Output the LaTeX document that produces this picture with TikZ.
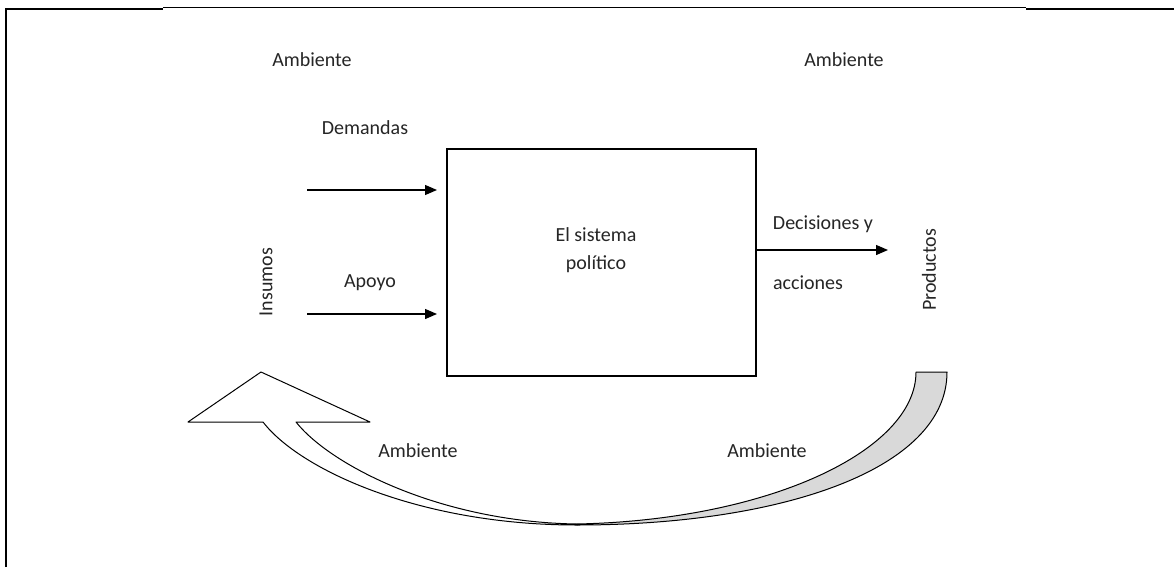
\documentclass[tikz,border=0pt]{standalone}
\usepackage{fontspec}
\setmainfont{Carlito}
\usetikzlibrary{arrows.meta}
\begin{document}
\begin{tikzpicture}[x=1pt,y=-1pt,
  lbl/.style={font=\fontsize{20}{24}\selectfont, text=black!85, inner sep=0pt},
  arr/.style={line width=1.3pt, -{Triangle[length=12pt,width=10pt]}},
  sysbox/.style={draw, line width=1.5pt, minimum width=309pt, minimum height=227pt, anchor=north west, inner sep=0pt},
  band/.style={draw, line width=1pt, line join=round}]
\useasboundingbox (0,0) rectangle (1174,567);
\fill[white] (0,0) rectangle (1174,567);
% table borders
\draw[line width=2.5pt] (6,567) -- (6,9) -- (163,9);
\draw[line width=1.8pt] (163,7.5) -- (1026,7.5);
\draw[line width=2.5pt] (1026,9) -- (1174,9);
% labels
\node[lbl] (amb1) at (312,60) {Ambiente};
\node[lbl] (amb2) at (844,60) {Ambiente};
\node[lbl] (amb3) at (418,451) {Ambiente};
\node[lbl] (amb4) at (767,451) {Ambiente};
\node[lbl] (dem) at (365,128) {Demandas};
\node[lbl] (apo) at (370,283) {Apoyo};
\node[lbl, rotate=90] (ins) at (266,282) {Insumos};
\node[lbl, rotate=90] (prod) at (929,270) {Productos};
\node[lbl] (dec) at (823,224) {Decisiones y};
\node[lbl] (acc) at (808,283) {acciones};
% system box
\node[sysbox] (sys) at (446,148) {};
\node[lbl, align=center] (systxt) at (596,250) {El sistema\\[4pt]político};
% input/output arrows
\coordinate (d0) at (307,190);
\coordinate (d1) at (437,190);
\coordinate (a0) at (307,314);
\coordinate (a1) at (437,314);
\coordinate (o1) at (888,250);
\draw[arr] (d0) -- (d1);
\draw[arr] (a0) -- (a1);
\draw[arr] (sys.east |- o1) -- (o1);
% feedback curved arrow
\coordinate (bot) at (577,525);
\coordinate (boti) at (577,524);
\path[band, fill=white] (bot) .. controls (420,525) and (300,470) .. (263,422)
   -- (188,422) -- (261,372) -- (370,422) -- (296,422)
   .. controls (330,465) and (440,522) .. (boti) -- cycle;
\path[band, fill=gray!30] (bot) .. controls (780,525) and (947,470) .. (947,372)
   -- (916,372) .. controls (916,450) and (770,520) .. (boti) -- cycle;
\end{tikzpicture}
\end{document}
